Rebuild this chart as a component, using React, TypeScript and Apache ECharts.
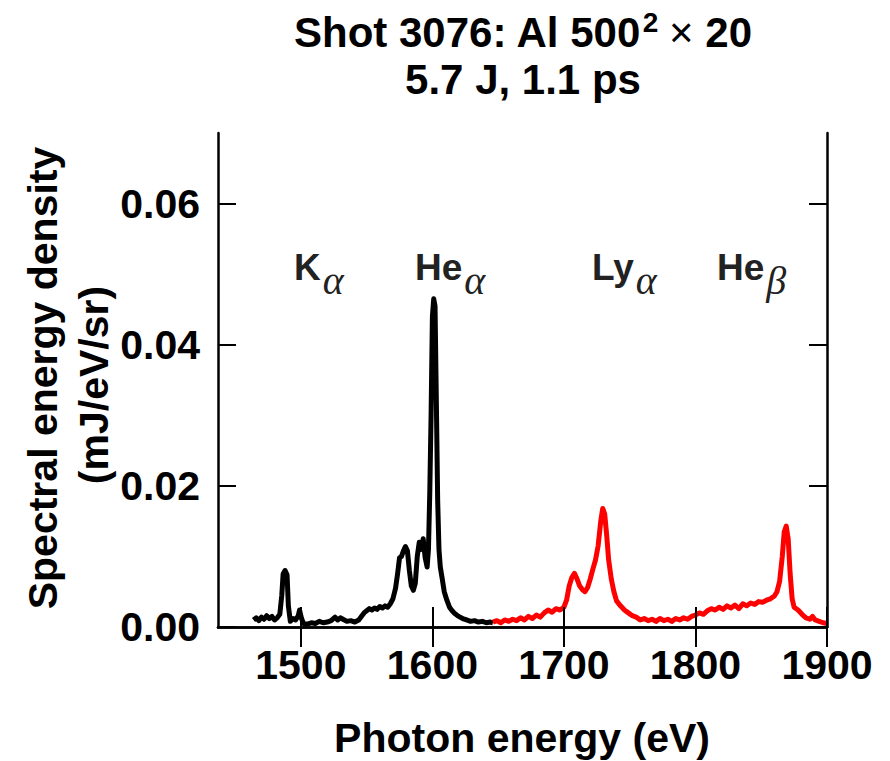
import React, { useEffect, useRef } from "react";
import * as echarts from "echarts";

// ---- data ----
const blackEnergy = [
  1464, 1466, 1468, 1470, 1472, 1474, 1476, 1478, 1480, 1482, 1484, 1485.5, 1486.5, 1488, 1489.5, 1490.5,
  1492, 1494, 1496, 1498, 1499, 1500.5, 1502, 1505, 1508, 1511, 1514, 1517, 1520, 1523, 1526, 1528, 1530,
  1532, 1535, 1538, 1541, 1544, 1546, 1548, 1550, 1552, 1554, 1556, 1558, 1560, 1562, 1564, 1566, 1568,
  1570, 1572, 1573.5, 1575, 1576.5, 1578, 1579.5, 1581, 1582.5, 1584, 1585.5, 1587, 1588.5, 1590, 1591.5,
  1593, 1594.5, 1596, 1597, 1598, 1599, 1600, 1601, 1602, 1603, 1604, 1605, 1606, 1607.5, 1609, 1611, 1613,
  1615, 1617, 1620, 1623, 1626, 1629, 1632, 1635, 1638, 1641, 1644, 1646,
];
const blackValue = [
  0.0010, 0.0013, 0.0009, 0.0014, 0.0011, 0.0016, 0.0012, 0.0015, 0.0010, 0.0013, 0.0018, 0.0045, 0.0075, 0.0080, 0.0074, 0.0030,
  0.0008, 0.0012, 0.0010, 0.0016, 0.0024, 0.0012, 0.0005, 0.0004, 0.0006, 0.0005, 0.0008, 0.0006, 0.0007, 0.0009, 0.0014, 0.0010, 0.0013,
  0.0011, 0.0008, 0.0009, 0.0007, 0.0010, 0.0015, 0.0020, 0.0023, 0.0026, 0.0024, 0.0027, 0.0025, 0.0029, 0.0027, 0.0030, 0.0028, 0.0033,
  0.0040, 0.0055, 0.0075, 0.0098, 0.0100, 0.0108, 0.0114, 0.0108, 0.0080, 0.0058, 0.0052, 0.0062, 0.0100, 0.0120, 0.0110,
  0.0125, 0.0098, 0.0085, 0.0110, 0.0190, 0.0300, 0.0440, 0.0465, 0.0455, 0.0320, 0.0180, 0.0110, 0.0085, 0.0068, 0.0050, 0.0038, 0.0028,
  0.0023, 0.0019, 0.0015, 0.0012, 0.0010, 0.0008, 0.0009, 0.0007, 0.0008, 0.0006, 0.0007, 0.0006,
];
const redEnergy = [
  1646, 1649, 1652, 1655, 1658, 1661, 1664, 1667, 1670, 1673, 1676, 1679, 1682, 1685, 1688, 1691, 1694, 1697,
  1700, 1702, 1704, 1706, 1708, 1710, 1712, 1714, 1716, 1718, 1720, 1722, 1724, 1726, 1728, 1729.5, 1731,
  1732.5, 1734, 1736, 1738, 1740, 1743, 1746, 1749, 1752, 1755, 1758, 1761, 1764, 1767, 1770, 1773, 1776,
  1779, 1782, 1785, 1788, 1791, 1794, 1797, 1800, 1803, 1806, 1809, 1812, 1815, 1818, 1821, 1824, 1827,
  1830, 1833, 1836, 1839, 1842, 1845, 1848, 1851, 1854, 1857, 1860, 1862, 1864, 1866, 1867.5, 1869, 1870.5,
  1872, 1873.5, 1875, 1878, 1881, 1884, 1887, 1889, 1891, 1894, 1897, 1900,
];
const redValue = [
  0.0007, 0.0009, 0.0006, 0.0010, 0.0008, 0.0011, 0.0009, 0.0013, 0.0010, 0.0015, 0.0012, 0.0017, 0.0014, 0.0020, 0.0024, 0.0021, 0.0026, 0.0024,
  0.0028, 0.0038, 0.0058, 0.0070, 0.0076, 0.0068, 0.0058, 0.0053, 0.0050, 0.0056, 0.0068, 0.0082, 0.0095, 0.0115, 0.0150, 0.0168, 0.0160,
  0.0130, 0.0095, 0.0068, 0.0050, 0.0037, 0.0030, 0.0024, 0.0020, 0.0016, 0.0014, 0.0010, 0.0012, 0.0009, 0.0011, 0.0008, 0.0012, 0.0009,
  0.0011, 0.0008, 0.0012, 0.0010, 0.0013, 0.0011, 0.0015, 0.0017, 0.0020, 0.0018, 0.0023, 0.0026, 0.0024, 0.0028, 0.0025, 0.0030, 0.0027,
  0.0031, 0.0026, 0.0033, 0.0030, 0.0034, 0.0032, 0.0036, 0.0035, 0.0038, 0.0040, 0.0044, 0.0050, 0.0065, 0.0100, 0.0135, 0.0143, 0.0125,
  0.0075, 0.0040, 0.0028, 0.0024, 0.0018, 0.0013, 0.0011, 0.0015, 0.0010, 0.0008, 0.0006, 0.0005,
];
const xTicks = [1500, 1600, 1700, 1800, 1900];
const yTicks = [0, 0.02, 0.04, 0.06];
const titleLine1 = "Shot 3076: Al 500";
const titleSup = "2";
const titleTimes = " \u00d7 ";
const titleEnd = "20";
const titleLine2 = "5.7 J, 1.1 ps";
const xName = "Photon energy (eV)";
const yName1 = "Spectral energy density";
const yName2 = "(mJ/eV/sr)";
const lineLabels = [
  { main: "K", sub: "\u03b1", x: 294 },
  { main: "He", sub: "\u03b1", x: 415 },
  { main: "Ly", sub: "\u03b1", x: 592 },
  { main: "He", sub: "\u03b2", x: 717 },
];

const SANS = '"Liberation Sans", Arial, Helvetica, sans-serif';
const SERIF = '"Liberation Serif", "Times New Roman", serif';

function measure(text: string, font: string): number {
  const c = document.createElement("canvas");
  const ctx = c.getContext("2d");
  if (!ctx) return text.length * 20;
  ctx.font = font;
  return ctx.measureText(text).width;
}

// y of the middle of a text box whose baseline is at `base`
const mid = (base: number, size: number) => base - 0.35 * size;

export default function App() {
  const ref = useRef<HTMLDivElement>(null);
  useEffect(() => {
    if (!ref.current) return;
    const chart = echarts.init(ref.current, undefined, { renderer: "svg" });

    const TF = 42;
    const SF = 28;
    const wA = measure(titleLine1, `bold ${TF}px ${SANS}`);
    const wB = measure(titleSup, `bold ${SF}px ${SANS}`);
    const wC = measure(titleTimes, `normal ${TF}px ${SANS}`);
    const wD = measure(titleEnd, `bold ${TF}px ${SANS}`);
    const total = wA + wB + wC + wD;
    const tx0 = 523 - total / 2;
    const base1 = 47;
    const base2 = 94;
    const LF = 41;

    const AF = 37;
    const GF = 40;
    const annBase = 280;
    const subBase = 294;

    const graphics: any[] = [
      { type: "text", x: tx0, y: mid(base1, TF), style: { text: titleLine1, font: `bold ${TF}px ${SANS}`, fill: "#000", align: "left", verticalAlign: "middle" } },
      { type: "text", x: tx0 + wA + 1, y: mid(base1 - 15, SF), style: { text: titleSup, font: `bold ${SF}px ${SANS}`, fill: "#000", align: "left", verticalAlign: "middle" } },
      { type: "text", x: tx0 + wA + wB, y: mid(base1, TF), style: { text: titleTimes, font: `normal ${TF}px ${SANS}`, fill: "#000", align: "left", verticalAlign: "middle" } },
      { type: "text", x: tx0 + wA + wB + wC, y: mid(base1, TF), style: { text: titleEnd, font: `bold ${TF}px ${SANS}`, fill: "#000", align: "left", verticalAlign: "middle" } },
      { type: "text", x: 523, y: mid(base2, TF), style: { text: titleLine2, font: `bold ${TF}px ${SANS}`, fill: "#000", align: "center", verticalAlign: "middle" } },
      { type: "text", x: 522, y: mid(752, LF), style: { text: xName, font: `bold ${LF}px ${SANS}`, fill: "#000", align: "center", verticalAlign: "middle" } },
      { type: "text", x: 43, y: 378, rotation: Math.PI / 2, style: { text: yName1, font: `bold ${LF}px ${SANS}`, fill: "#000", align: "center", verticalAlign: "middle" } },
      { type: "text", x: 94, y: 385, rotation: Math.PI / 2, style: { text: yName2, font: `bold ${LF}px ${SANS}`, fill: "#000", align: "center", verticalAlign: "middle" } },
    ];
    lineLabels.forEach((l) => {
      const w = measure(l.main, `bold ${AF}px ${SANS}`);
      graphics.push({ type: "text", x: l.x, y: mid(annBase, AF), style: { text: l.main, font: `bold ${AF}px ${SANS}`, fill: "#222", align: "left", verticalAlign: "middle" } });
      graphics.push({ type: "text", x: l.x + w + 2, y: mid(subBase, GF), style: { text: l.sub, font: `italic ${GF}px ${SERIF}`, fill: "#222", align: "left", verticalAlign: "middle" } });
    });

    const axisLine = { show: true, lineStyle: { color: "#000", width: 2.5 } };
    const labelStyle = { fontSize: 41, fontWeight: "bold" as const, color: "#000", fontFamily: SANS };

    chart.setOption({
      animation: false,
      grid: { left: 218, right: 63, top: 133, bottom: 134, containLabel: false },
      xAxis: [
        {
          type: "value", min: 1437, max: 1900, position: "bottom", z: 5,
          axisLine,
          axisTick: { show: true, inside: true, length: 20, lineStyle: { color: "#000", width: 2 }, customValues: xTicks },
          axisLabel: { ...labelStyle, margin: 17, customValues: xTicks, formatter: (v: number) => String(v) },
          splitLine: { show: false },
        },
        {
          type: "value", min: 1437, max: 1900, position: "top", z: 5,
          axisLine,
          axisTick: { show: true, inside: true, length: 20, lineStyle: { color: "#000", width: 2 }, customValues: xTicks },
          axisLabel: { show: false },
          splitLine: { show: false },
        },
      ],
      yAxis: [
        {
          type: "value", min: 0, max: 0.07, position: "left", z: 5,
          axisLine,
          axisTick: { show: true, inside: true, length: 18, lineStyle: { color: "#000", width: 2 }, customValues: yTicks },
          axisLabel: { ...labelStyle, margin: 18, customValues: yTicks, formatter: (v: number) => v.toFixed(2) },
          splitLine: { show: false },
        },
        {
          type: "value", min: 0, max: 0.07, position: "right", z: 5,
          axisLine,
          axisTick: { show: true, inside: true, length: 18, lineStyle: { color: "#000", width: 2 }, customValues: yTicks },
          axisLabel: { show: false },
          splitLine: { show: false },
        },
      ],
      series: [
        {
          type: "line", xAxisIndex: 0, yAxisIndex: 0, showSymbol: false, silent: true,
          data: blackEnergy.map((e, i) => [e, blackValue[i]]),
          lineStyle: { color: "#000", width: 5, join: "round" },
        },
        {
          type: "line", xAxisIndex: 0, yAxisIndex: 0, showSymbol: false, silent: true,
          data: redEnergy.map((e, i) => [e, redValue[i]]),
          lineStyle: { color: "#ff0000", width: 5, join: "round" },
        },
      ],
      graphic: graphics,
    });
    return () => chart.dispose();
  }, []);
  return <div ref={ref} style={{ position: "fixed", left: 0, top: 0, width: 890, height: 761, background: "#fff" }} />;
}
